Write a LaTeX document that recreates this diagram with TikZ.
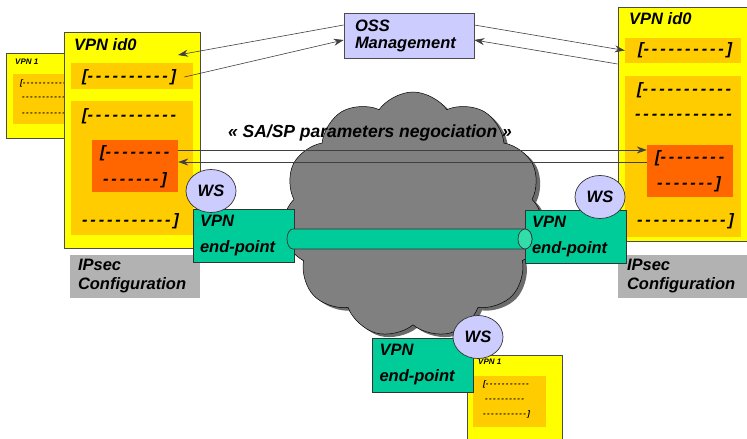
\documentclass[tikz,border=0pt]{standalone}
\usepackage{fontspec}
\setmainfont{Liberation Sans}
\usetikzlibrary{positioning, arrows.meta, shapes.geometric, shapes.symbols, shadows}
\definecolor{vpnyellow}{RGB}{255,255,0}
\definecolor{cfgorange}{RGB}{255,204,0}
\definecolor{saorange}{RGB}{255,102,0}
\definecolor{eptgreen}{RGB}{0,204,153}
\definecolor{tubeend}{RGB}{51,221,170}
\definecolor{osslilac}{RGB}{204,204,255}
\definecolor{labelgrey}{RGB}{178,178,178}
\definecolor{netgrey}{RGB}{128,128,128}

% a row of spaced dashes
\newcommand{\dashrow}[1]{\foreach\k in {1,...,#1}{-\kern0.17em}}

\begin{document}
\begin{tikzpicture}[x=1pt, y=-1pt, >={Stealth[length=10pt, width=7pt]},
    dims/.style 2 args={minimum width=#1, minimum height=#2},
    vpnbox/.style={draw=black!70, line width=0.7pt, fill=vpnyellow, inner sep=0pt},
    cfgbox/.style={fill=cfgorange, inner sep=0pt},
    sabox/.style={fill=saorange, inner sep=0pt},
    txt/.style={inner sep=0pt, anchor=west,
      font=\fontsize{16.5}{17}\selectfont\bfseries\itshape},
    tinytxt/.style={inner sep=0pt, anchor=west,
      font=\fontsize{8}{9}\selectfont\bfseries\itshape},
    endpoint/.style={draw=black!80, line width=0.7pt, fill=eptgreen,
      align=left, text width=87pt, inner xsep=7pt, dims={101}{53},
      font=\fontsize{16.5}{26}\selectfont\bfseries\itshape},
    ipsec/.style={fill=labelgrey, align=left, text width=114pt, inner xsep=8pt,
      font=\fontsize{16.5}{19}\selectfont\bfseries\itshape},
    ws/.style={ellipse, draw=black!80, line width=0.7pt, fill=osslilac,
      inner sep=0pt, dims={50}{43},
      font=\fontsize{16.5}{17}\selectfont\bfseries\itshape},
    conn/.style={draw=black!75, line width=0.6pt}]
  \useasboundingbox (0,0) rectangle (747,439);
  \clip (0,0) rectangle (747,439);

  % small VPN 1 table, left
  \node[vpnbox, dims={74}{85}] (vpn1L) at (43,95.5) {};
  \node[cfgbox, dims={62}{50}] (cfg1L) at (44,99) {};
  \node[tinytxt] (title1L) at (15,62) {VPN 1};
  \node[tinytxt] (row1L1) at (20,83) {[\dashrow{12}};
  \node[tinytxt] (row1L2) at (22,98) {\dashrow{12}};
  \node[tinytxt] (row1L3) at (22,114) {\dashrow{12}};

  % VPN id0 table, left
  \node[vpnbox, dims={136}{216}] (vpnL) at (132,140) {};
  \node[cfgbox, dims={122}{26}] (cfgL1) at (132,76) {};
  \node[cfgbox, dims={122}{134}] (cfgL2) at (132,168) {};
  \node[sabox, dims={86}{52}] (saL) at (135,166) {};
  \node[txt] (titleL) at (74,45) {VPN id0};
  \node[txt] (rowL1) at (82,77) {[\dashrow{10}]};
  \node[txt] (rowL2) at (82,116) {[\dashrow{11}};
  \node[txt] (rowL3) at (100,153) {[\dashrow{8}};
  \node[txt] (rowL4) at (103,180) {\dashrow{7}]};
  \node[txt] (rowL5) at (82,221) {\dashrow{11}]};

  % VPN id0 table, right
  \node[vpnbox, dims={142}{234}] (vpnR) at (689,124) {};
  \node[cfgbox, dims={116}{25}] (cfgR1) at (683,50.5) {};
  \node[cfgbox, dims={116}{161}] (cfgR2) at (683,156.5) {};
  \node[sabox, dims={86}{52}] (saR) at (690,171) {};
  \node[txt] (titleR) at (629,19) {VPN id0};
  \node[txt] (rowR1) at (638,50) {[\dashrow{10}]};
  \node[txt] (rowR2) at (637,90) {[\dashrow{11}};
  \node[txt] (rowR3) at (635,117) {\dashrow{12}};
  \node[txt] (rowR4) at (655,158) {[\dashrow{8}};
  \node[txt] (rowR5) at (657,184) {\dashrow{7}]};
  \node[txt] (rowR6) at (637,221) {\dashrow{11}]};

  \node[ipsec, dims={130}{43}] (ipsecL) at (135,276.5) {IPsec\\Configuration};
  \node[ipsec, dims={132}{43}] (ipsecR) at (684,276.5) {IPsec\\Configuration};

  % the network
  \node[cloud, cloud puffs=11, cloud puff arc=110, aspect=1.07,
    dims={263}{246}, fill=netgrey, draw=black, line width=0.5pt,
    drop shadow={shadow xshift=4pt, shadow yshift=-3pt, fill=black!58, opacity=1}]
    (net) at (413,215) {};

  \node[draw=black!70, line width=0.7pt, fill=osslilac, dims={130}{45},
    align=left, text width=108pt, inner xsep=11pt,
    font=\fontsize{16.5}{17}\selectfont\bfseries\itshape] (oss) at (409,35.5)
    {OSS\\Management};

  \coordinate (inL) at (178,55);
  \draw[conn, ->] (oss.west |- 0,25) -- (inL);
  \draw[conn, ->] ([xshift=8pt]rowL1.east) -- (oss.west |- 0,40);
  \draw[conn, ->] (oss.east |- 0,25) -- (cfgR1.west);
  \draw[conn, ->] (vpnR.west |- 0,64) -- (oss.east |- 0,40);

  \draw[conn, ->] (saL.east |- 0,150) -- (saR.west |- 0,150);
  \draw[conn, <-] (saL.east |- 0,162) -- (saR.west |- 0,162);
  \node[txt, anchor=center, font=\fontsize{17.5}{18}\selectfont\bfseries\itshape]
    (saLabel) at (370,133) {« SA/SP parameters negociation »};

  % small VPN 1 table, bottom
  \node[vpnbox, dims={95}{115}] (vpn1B) at (514.5,412.5) {};
  \node[cfgbox, dims={73}{51}] (cfg1B) at (509.5,401.5) {};
  \node[tinytxt] (title1B) at (478,362) {VPN 1};
  \node[tinytxt] (row1B1) at (483,384) {[\dashrow{11}};
  \node[tinytxt] (row1B2) at (485,400) {\dashrow{10}};
  \node[tinytxt] (row1B3) at (483,414) {\dashrow{11}]};

  % end-points
  \node[endpoint] (epL) at (243.5,235.5) {VPN\\end-point};
  \node[endpoint] (epR) at (575.5,236.5) {VPN\\end-point};
  \node[endpoint, dims={100}{54}] (epB) at (423,365) {VPN\\end-point};

  % tunnel between the end-points
  \filldraw[fill=eptgreen, draw=black!80, line width=0.7pt]
    (293,229) -- (525,229) arc[start angle=-90, end angle=90, x radius=7, y radius=10]
    -- (293,249) arc[start angle=90, end angle=270, x radius=6, y radius=10] -- cycle;
  \filldraw[fill=tubeend, draw=black!80, line width=0.7pt]
    (525,239) ellipse[x radius=7, y radius=10];

  \node[ws] (wsL) at (211,191) {WS};
  \node[ws] (wsR) at (600,197) {WS};
  \node[ws] (wsB) at (478,337) {WS};
\end{tikzpicture}
\end{document}
